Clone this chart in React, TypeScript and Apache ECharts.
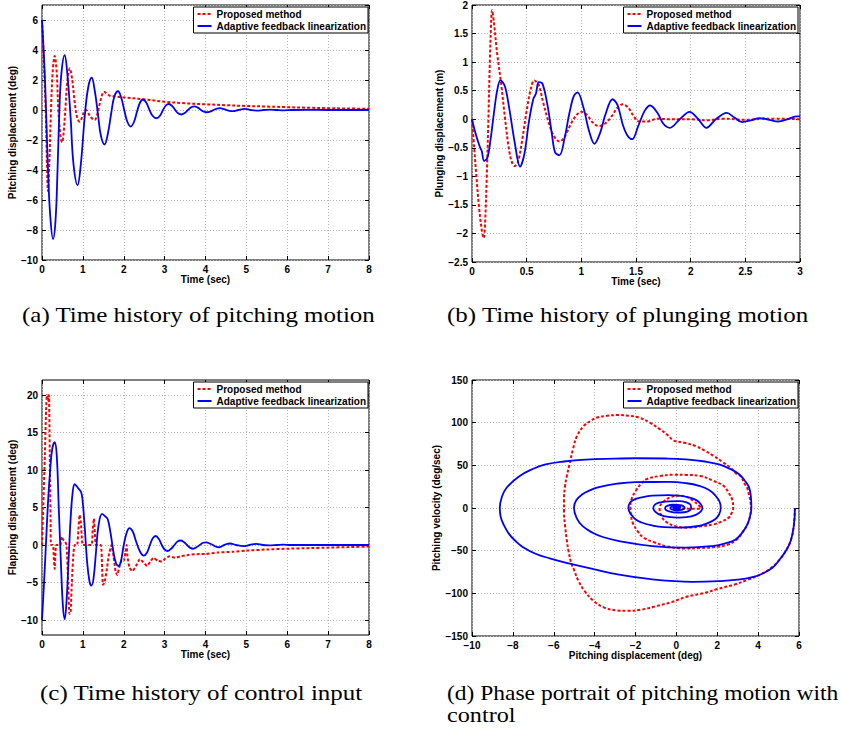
import React, { useEffect, useRef } from 'react';
import * as echarts from 'echarts';

const seriesNames = ['Proposed method', 'Adaptive feedback linearization'];

const pitchProposed: number[][] = [
  [0, 6], [0.04, 3.5], [0.09, 0], [0.12, -3.5], [0.147, -5.4], [0.18, -3.5], [0.22, 0], [0.26, 2.5], [0.31, 3.6],
  [0.36, 2.5], [0.4, 0], [0.45, -1.7], [0.49, -2.15], [0.53, -1.5], [0.57, 0], [0.62, 1.9], [0.68, 2.78], [0.74, 2.0],
  [0.8, 0.5], [0.86, -0.5], [0.92, -0.78], [0.98, -0.5], [1.03, -0.1], [1.08, 0], [1.13, -0.2], [1.2, -0.5], [1.29, -0.67],
  [1.35, -0.3], [1.42, 0.5], [1.47, 1.0], [1.52, 1.22], [1.58, 1.1], [1.66, 0.95], [1.78, 0.9], [2.0, 0.84], [2.5, 0.71],
  [3.0, 0.55], [3.5, 0.45], [4, 0.38], [4.5, 0.32], [5, 0.27], [5.5, 0.23], [6, 0.19], [6.5, 0.15], [7, 0.12], [7.5, 0.1], [8, 0.08],
];
const pitchAdaptive: number[][] = [
  [0, 6], [0.04, 4], [0.08, 1.5], [0.11, -1], [0.15, -4.2], [0.2, -7], [0.27, -8.6], [0.33, -7.4], [0.38, -4], [0.42, -0.5],
  [0.47, 2.3], [0.555, 3.65], [0.62, 2.4], [0.7, -0.5], [0.77, -3.6], [0.87, -5.0], [0.95, -3.6], [1.05, -0.3], [1.13, 1.5],
  [1.215, 2.15], [1.29, 1.3], [1.37, -0.3], [1.44, -1.7], [1.53, -2.3], [1.61, -1.6], [1.7, -0.1], [1.77, 0.9], [1.86, 1.25],
  [1.94, 0.8], [2.02, -0.1], [2.09, -0.8], [2.17, -1.1], [2.25, -0.8], [2.33, -0.05], [2.4, 0.5], [2.47, 0.7], [2.55, 0.5],
  [2.63, 0], [2.71, -0.4], [2.8, -0.55], [2.88, -0.4], [2.96, 0], [3.03, 0.3], [3.1, 0.4], [3.18, 0.28], [3.26, 0], [3.33, -0.22],
  [3.41, -0.3], [3.49, -0.2], [3.57, 0], [3.65, 0.18], [3.73, 0.24], [3.81, 0.16], [3.89, 0], [3.96, -0.11], [4.04, -0.15],
  [4.12, -0.1], [4.2, 0], [4.28, 0.09], [4.35, 0.12], [4.43, 0.08], [4.51, 0], [4.59, -0.06], [4.67, -0.08], [4.8, 0],
  [4.96, 0.07], [5.1, 0], [5.26, -0.04], [5.42, 0], [5.58, 0.03], [5.75, 0], [5.92, -0.02], [6.1, 0], [6.5, 0.01], [7, 0], [8, 0],
];

const plungeProposed: number[][] = [
  [0, 0], [0.02, -0.5], [0.04, -1.0], [0.065, -1.55], [0.09, -1.95], [0.107, -2.08], [0.12, -1.8], [0.135, -1.0], [0.15, 0],
  [0.163, 1.0], [0.175, 1.7], [0.183, 1.91], [0.2, 1.7], [0.23, 1.15], [0.266, 0.63], [0.3, 0.05], [0.34, -0.55], [0.37, -0.78],
  [0.39, -0.82], [0.42, -0.75], [0.46, -0.35], [0.5, 0.15], [0.54, 0.55], [0.57, 0.68], [0.61, 0.6], [0.65, 0.3], [0.7, -0.05],
  [0.75, -0.3], [0.8, -0.39], [0.85, -0.3], [0.9, -0.1], [0.95, 0.06], [1.0, 0.13], [1.05, 0.08], [1.1, -0.05], [1.16, -0.12],
  [1.22, -0.07], [1.28, 0.06], [1.33, 0.2], [1.38, 0.26], [1.43, 0.2], [1.48, 0.05], [1.53, -0.04], [1.6, -0.04], [1.7, 0.01],
  [1.8, 0], [2.0, 0], [2.15, -0.02], [2.3, 0.01], [2.5, -0.01], [2.7, 0.01], [3, 0],
];
const plungeAdaptive: number[][] = [
  [0, 0], [0.04, -0.3], [0.075, -0.5], [0.09, -0.56], [0.11, -0.73], [0.14, -0.68], [0.17, -0.35], [0.2, 0.1], [0.23, 0.5],
  [0.26, 0.68], [0.3, 0.58], [0.34, 0.2], [0.39, -0.4], [0.44, -0.83], [0.48, -0.6], [0.52, -0.05], [0.56, 0.35], [0.585, 0.45],
  [0.61, 0.65], [0.645, 0.62], [0.69, 0.25], [0.73, -0.25], [0.76, -0.58], [0.8, -0.63], [0.85, -0.3], [0.89, 0.1], [0.93, 0.4],
  [0.965, 0.47], [1.02, 0.2], [1.07, -0.2], [1.12, -0.43], [1.17, -0.25], [1.22, 0.08], [1.285, 0.35], [1.33, 0.25], [1.38, -0.1],
  [1.42, -0.28], [1.465, -0.35], [1.52, -0.12], [1.58, 0.15], [1.63, 0.24], [1.7, 0.1], [1.75, -0.08], [1.81, -0.15], [1.9, 0],
  [1.99, 0.13], [2.07, 0], [2.145, -0.15], [2.23, 0], [2.33, 0.11], [2.4, 0.03], [2.47, -0.05], [2.55, -0.02], [2.63, 0.02],
  [2.72, -0.01], [2.8, -0.04], [2.9, 0.01], [2.97, 0.05], [3, 0.05],
];

const flapProposed: number[][] = [
  [0, 0], [0.03, 5], [0.07, 12], [0.1, 18], [0.12, 20], [0.15, 19.3], [0.17, 20], [0.19, 12], [0.21, 3], [0.22, 0], [0.27, 0],
  [0.29, -2], [0.31, -3.2], [0.33, -1], [0.35, 0], [0.45, 0], [0.48, 1.1], [0.52, 0.7], [0.56, 0.5], [0.6, 0], [0.64, -5],
  [0.67, -9.2], [0.7, -9], [0.73, -5], [0.77, -1], [0.8, 0], [0.86, 0], [0.89, 2], [0.92, 4.0], [0.95, 3], [0.98, 0.5], [1.0, 0],
  [1.21, 0], [1.24, 2], [1.27, 3.5], [1.3, 1], [1.32, 0], [1.44, 0], [1.47, -3], [1.49, -5.3], [1.53, -5], [1.58, -3.5],
  [1.63, -1.5], [1.7, 0], [1.75, -1.5], [1.8, -3.5], [1.84, -4], [1.89, -3], [1.95, -2], [2.0, -2.1], [2.04, -1], [2.07, 0],
  [2.09, -1.5], [2.14, -3], [2.21, -3.5], [2.3, -2.8], [2.39, -1.9], [2.48, -2.3], [2.57, -2.8], [2.65, -2.2], [2.73, -1.7],
  [2.83, -2.1], [2.93, -2.2], [3.02, -1.8], [3.12, -1.5], [3.25, -1.7], [3.4, -1.5], [3.6, -1.3], [3.86, -1.2], [4.0, -1.2],
  [4.3, -1.0], [4.67, -0.9], [5, -0.75], [5.5, -0.6], [6, -0.5], [6.5, -0.42], [7, -0.35], [7.5, -0.28], [8, -0.2],
];
const flapAdaptive: number[][] = [
  [0, -10], [0.05, -5], [0.1, 0.5], [0.15, 6], [0.2, 10], [0.25, 12.8], [0.31, 13.7], [0.36, 12], [0.41, 5], [0.46, -2],
  [0.51, -8], [0.555, -9.9], [0.6, -7.5], [0.65, -2], [0.7, 3.5], [0.75, 7], [0.8, 8.1], [0.88, 7.6], [0.96, 7.0], [1.0, 5.5],
  [1.05, 2], [1.1, -2], [1.16, -4.8], [1.21, -5.4], [1.26, -4.5], [1.32, -1], [1.38, 2.5], [1.47, 4.15], [1.55, 3.8],
  [1.61, 3.4], [1.68, 1.5], [1.75, -1], [1.81, -2.4], [1.87, -2.8], [1.93, -2.2], [2.0, 0], [2.07, 1.6], [2.14, 2.25],
  [2.22, 1.8], [2.3, 0.5], [2.4, -0.9], [2.49, -1.42], [2.57, -1], [2.64, 0], [2.71, 0.9], [2.78, 1.2], [2.86, 0.8], [2.93, 0],
  [3.0, -0.6], [3.08, -0.8], [3.16, -0.5], [3.24, 0], [3.31, 0.45], [3.39, 0.6], [3.47, 0.4], [3.55, 0], [3.62, -0.35],
  [3.7, -0.5], [3.78, -0.3], [3.86, 0], [3.94, 0.3], [4.02, 0.35], [4.1, 0.2], [4.18, 0], [4.25, -0.2], [4.33, -0.3],
  [4.42, -0.1], [4.5, 0.1], [4.6, 0.2], [4.75, 0], [4.92, -0.15], [5.08, 0], [5.24, 0.15], [5.4, 0], [5.55, -0.05], [5.75, 0],
  [5.9, 0.05], [6.1, 0], [8, 0],
];

const phaseProposed: number[][] = [
  [5.8, 0], [5.75, -20], [5.6, -38], [5.36, -50], [5.0, -62], [4.54, -72], [4.1, -78], [3.5, -84], [2.85, -89.6], [2.0, -95],
  [1.4, -99.4], [0.5, -104], [-0.2, -110], [-1.0, -115], [-1.7, -119], [-2.4, -120.5], [-2.9, -120], [-3.5, -117], [-4.05, -109],
  [-4.5, -97], [-4.8, -85], [-5.0, -73], [-5.15, -64], [-5.28, -50], [-5.36, -38], [-5.45, -20], [-5.5, -5], [-5.5, 10],
  [-5.45, 25], [-5.36, 37.6], [-5.22, 52], [-5.05, 70], [-4.86, 84.5], [-4.54, 96], [-4.2, 102], [-3.88, 106], [-3.4, 108],
  [-2.82, 109], [-2.3, 108], [-1.83, 106], [-1.3, 100], [-0.85, 93], [-0.4, 85], [-0.13, 79], [0.4, 76.5], [0.95, 72.5],
  [1.4, 67], [1.83, 61], [2.25, 54], [2.64, 47.3], [2.95, 40], [3.13, 37.6], [3.35, 28], [3.46, 23.8], [3.56, 15], [3.62, 8],
  [3.65, 0], [3.6, -10], [3.48, -19], [3.25, -28], [2.95, -37], [2.5, -43], [2.0, -45.5], [1.17, -47], [0.46, -47.5],
  [-0.46, -45], [-1.1, -40], [-1.6, -34.8], [-1.9, -27], [-2.14, -17], [-2.22, -9], [-2.25, 0], [-2.2, 10], [-1.99, 20],
  [-1.7, 29], [-1.44, 34], [-0.8, 37.5], [-0.13, 39], [0.5, 38.8], [1.17, 37.6], [1.8, 32], [2.32, 25.8], [2.55, 18],
  [2.73, 10], [2.78, 0], [2.7, -6], [2.58, -11], [2.2, -16], [1.83, -19], [1.2, -21.5], [0.52, -23], [-0.1, -21],
  [-0.46, -17], [-0.72, -10], [-0.82, 0], [-0.65, 7], [-0.3, 12.5], [0.1, 14.5], [0.5, 13], [0.85, 8], [1.1, 3],
  [1.2, 0], [1.0, -1], [0.6, -0.8], [0.3, -0.5], [0, -0.2],
];
const phaseAdaptive: number[][] = [
  [5.8, 0], [5.75, -20], [5.6, -38], [5.36, -50], [5.0, -62], [4.7, -70], [4.2, -77], [3.72, -81], [3.0, -84], [2.09, -85.7],
  [0.78, -86.5], [-0.5, -85], [-1.18, -83.7], [-2.8, -78], [-4.0, -72], [-5.26, -65], [-6.2, -59], [-6.89, -53.6], [-7.5, -46],
  [-7.87, -38.7], [-8.2, -30], [-8.44, -20], [-8.6, -10], [-8.64, 0], [-8.55, 12], [-8.3, 24], [-7.7, 37], [-7.0, 46],
  [-6.4, 51], [-5.5, 54.5], [-4.44, 56.7], [-3.0, 57.8], [-1.99, 58.3], [-0.5, 58], [0.46, 57], [1.4, 54.5], [2.09, 51],
  [2.7, 45], [3.07, 39.5], [3.35, 32], [3.56, 23.9], [3.65, 12], [3.67, 0], [3.6, -10], [3.48, -19], [3.25, -28], [2.9, -36.8],
  [2.4, -41.5], [1.76, -44.6], [0.46, -46.5], [-1.18, -44.6], [-2.8, -38.7], [-3.6, -34], [-4.1, -29], [-4.6, -21],
  [-4.85, -13], [-5.01, 0], [-4.9, 9], [-4.6, 16], [-4.2, 21], [-3.79, 24.5], [-2.9, 28.5], [-1.99, 30.3], [-0.36, 30.5],
  [0.5, 29], [1.11, 26], [1.6, 21], [1.93, 14], [2.12, 7], [2.17, 0], [2.1, -7], [1.93, -12.5], [1.5, -18], [1.11, -21],
  [0.13, -23], [-0.6, -22.5], [-1.18, -20.5], [-1.7, -17], [-1.99, -13.5], [-2.2, -8], [-2.35, 0], [-2.28, 6], [-2.1, 9.5],
  [-1.7, 12.5], [-1.18, 14.5], [-0.4, 15], [0.13, 14.5], [0.6, 12.5], [0.95, 9.5], [1.18, 5], [1.27, 0], [1.2, -4],
  [0.95, -8], [0.5, -10.8], [0.13, -11.3], [-0.4, -10.5], [-0.85, -7.4], [-1.05, -4], [-1.13, 0], [-1.05, 4], [-0.85, 6.3],
  [-0.4, 7.8], [0.13, 8], [0.5, 6.5], [0.7, 3.5], [0.72, 0], [0.65, -3], [0.4, -5], [0, -5.3], [-0.35, -4], [-0.53, -2],
  [-0.55, 0], [-0.45, 2.5], [-0.15, 3.8], [0.2, 3.3], [0.38, 1.5], [0.4, 0], [0.3, -2], [0, -2.9], [-0.25, -1.5], [-0.3, 0],
  [-0.2, 1.6], [0.05, 2], [0.2, 0.8], [0.2, 0], [0.1, -1], [-0.1, -0.8], [-0.15, 0], [-0.05, 0.8], [0.1, 0.5], [0.1, 0],
  [0, -0.3], [0, 0],
];

const flapTicks = [-10, -5, 0, 5, 10, 15, 20];

const captions = [
  { text: '(a) Time history of pitching motion', x: 22, y: 305, sx: 1.135 },
  { text: '(b) Time history of plunging motion', x: 447, y: 305, sx: 1.135 },
  { text: '(c) Time history of control input', x: 40, y: 683, sx: 1.134 },
  { text: '(d) Phase portrait of pitching motion with', x: 447, y: 683, sx: 1.068 },
  { text: 'control', x: 447, y: 704, sx: 1.1 },
];

const SANS = '"Liberation Sans", Arial, Helvetica, sans-serif';
const SERIF = '"Liberation Serif", "Times New Roman", serif';
const RED = '#ff0000';
const BLUE = '#0000ff';

const fmt = (v: number) => String(v).replace('-', '\u2212');

const grids = [
  { left: 42, top: 5, width: 327, height: 255 },
  { left: 472, top: 5, width: 328, height: 257 },
  { left: 42, top: 380, width: 327, height: 255 },
  { left: 472, top: 380, width: 327, height: 256 },
];

const tick = { inside: true, length: 4, lineStyle: { color: '#000', width: 1 } };
const split = { show: true, lineStyle: { color: '#b4b4b4', type: [1, 2], width: 1 } };
const label = { color: '#000', fontFamily: SANS, fontWeight: 'bold', fontSize: 10, formatter: fmt };
const nameStyle = { color: '#000', fontFamily: SANS, fontWeight: 'bold', fontSize: 10 };
const noLine = { show: false, onZero: false };

function xMain(gi: number, min: number, max: number, interval: number, name: string) {
  return {
    type: 'value', gridIndex: gi, min, max, interval, position: 'bottom',
    name, nameLocation: 'middle', nameGap: 13, nameTextStyle: nameStyle,
    axisLine: noLine, axisTick: tick, axisLabel: { ...label, margin: 4 }, splitLine: split,
  };
}
function xTop(gi: number, min: number, max: number, interval: number) {
  return {
    type: 'value', gridIndex: gi, min, max, interval, position: 'top',
    axisLine: noLine, axisTick: tick, axisLabel: { show: false }, splitLine: { show: false },
  };
}
function yMain(gi: number, min: number, max: number, interval: number | undefined, name: string, gap: number, extra: any = {}) {
  return {
    type: 'value', gridIndex: gi, min, max, interval, position: 'left',
    name, nameLocation: 'middle', nameGap: gap, nameTextStyle: nameStyle,
    axisLine: noLine, axisTick: { ...tick, ...(extra.tick || {}) },
    axisLabel: { ...label, margin: 4, showMaxLabel: extra.hideMax ? false : undefined, ...(extra.label || {}) },
    splitLine: split,
  };
}
function yRight(gi: number, min: number, max: number, interval: number | undefined, extra: any = {}) {
  return {
    type: 'value', gridIndex: gi, min, max, interval, position: 'right',
    axisLine: noLine, axisTick: { ...tick, ...(extra.tick || {}) }, axisLabel: { show: false }, splitLine: { show: false },
  };
}

function line(name: string, data: number[][], idx: number, color: string, dashed: boolean, smooth: number) {
  return {
    type: 'line', name, data, xAxisIndex: idx, yAxisIndex: idx, symbol: 'none', showSymbol: false, smooth,
    lineStyle: { color, width: dashed ? 2 : 1.8, type: dashed ? [3, 2] : 'solid' }, itemStyle: { color },
    z: dashed ? 2 : 3, silent: true,
  };
}

function legend(right: number, top: number) {
  return {
    data: seriesNames, orient: 'vertical', right, top, itemWidth: 14, itemHeight: 8, itemGap: 2,
    padding: [2, 2, 2, 3], borderColor: '#000', borderWidth: 1, backgroundColor: '#fff', selectedMode: false,
    itemStyle: { opacity: 0 },
    textStyle: { fontFamily: SANS, fontWeight: 'bold', fontSize: 10, color: '#000' },
  };
}

const flapExtra = { tick: { customValues: flapTicks }, label: { customValues: flapTicks } };

const option: any = {
  animation: false,
  backgroundColor: '#fff',
  grid: grids.map((g) => ({ ...g, show: true, borderColor: '#000', borderWidth: 1, backgroundColor: 'transparent' })),
  xAxis: [
    xMain(0, 0, 8, 1, 'Time (sec)'),
    xMain(1, 0, 3, 0.5, 'Time (sec)'),
    xMain(2, 0, 8, 1, 'Time (sec)'),
    xMain(3, -10, 6, 2, 'Pitching displacement (deg)'),
    xTop(0, 0, 8, 1),
    xTop(1, 0, 3, 0.5),
    xTop(2, 0, 8, 1),
    xTop(3, -10, 6, 2),
  ],
  yAxis: [
    yMain(0, -10, 7, 2, 'Pitching displacement (deg)', 22, { hideMax: true }),
    yMain(1, -2.5, 2, 0.5, 'Plunging displacement (m)', 25),
    yMain(2, -12, 22, undefined, 'Flapping displacement (deg)', 22, flapExtra),
    yMain(3, -150, 150, 50, 'Pitching velocity (deg/sec)', 29),
    yRight(0, -10, 7, 2),
    yRight(1, -2.5, 2, 0.5),
    yRight(2, -12, 22, undefined, flapExtra),
    yRight(3, -150, 150, 50),
  ],
  legend: [legend(473, 7), legend(43, 7), legend(473, 382), legend(43, 382)],
  series: [
    line(seriesNames[0], pitchProposed, 0, RED, true, 0.35),
    line(seriesNames[1], pitchAdaptive, 0, BLUE, false, 0.4),
    line(seriesNames[0], plungeProposed, 1, RED, true, 0.35),
    line(seriesNames[1], plungeAdaptive, 1, BLUE, false, 0.35),
    line(seriesNames[0], flapProposed, 2, RED, true, 0.15),
    line(seriesNames[1], flapAdaptive, 2, BLUE, false, 0.4),
    line(seriesNames[0], phaseProposed, 3, RED, true, 0.4),
    line(seriesNames[1], phaseAdaptive, 3, BLUE, false, 0.45),
  ],
  graphic: captions.map((c) => ({
    type: 'text', x: c.x, y: c.y, scaleX: c.sx, silent: true,
    style: { text: c.text, fontFamily: SERIF, fontSize: 22, lineHeight: 20, fill: '#000', verticalAlign: 'top' },
  })),
};

export default function App() {
  const ref = useRef<HTMLDivElement>(null);
  useEffect(() => {
    const chart = echarts.init(ref.current!, null, { renderer: 'svg' });
    chart.setOption(option);
    return () => chart.dispose();
  }, []);
  return (
    <div
      ref={ref}
      style={{ position: 'absolute', left: 0, top: 0, width: 841, height: 729, background: '#fff' }}
    />
  );
}
